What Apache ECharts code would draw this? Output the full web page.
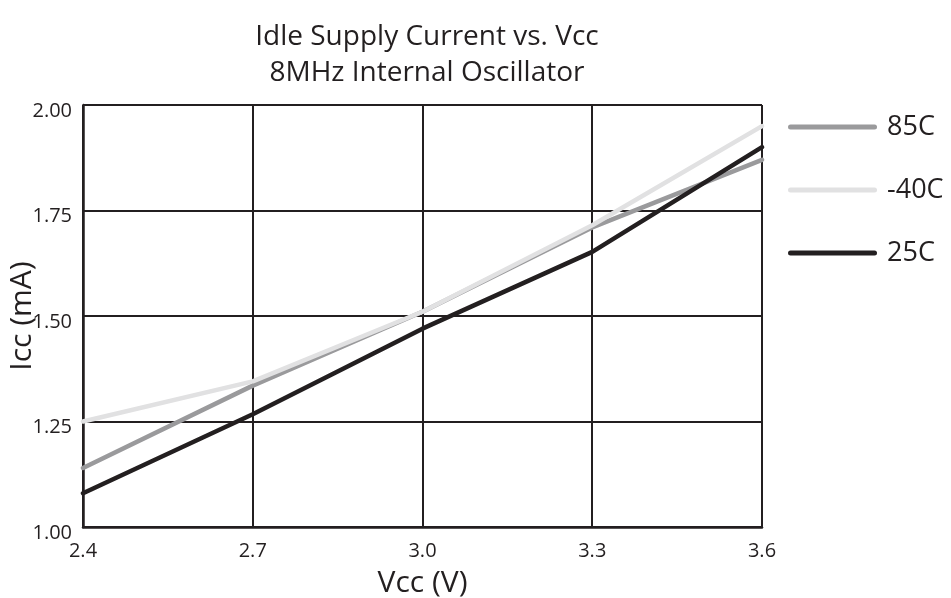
<!DOCTYPE html>
<html>
<head>
<meta charset="utf-8">
<script src="https://cdn.jsdelivr.net/npm/echarts@6/dist/echarts.min.js"></script>
<style>
  html, body { margin: 0; padding: 0; background: #fff; }
  #chart { width: 951px; height: 598px; }
</style>
</head>
<body>
<div id="chart"></div>
<script>
// Supply voltage points (V)
const vcc = [2.4, 2.7, 3.0, 3.3, 3.6];
// Idle supply current (mA) per temperature
const icc85 = [1.14, 1.335, 1.51, 1.71, 1.87];
const iccMinus40 = [1.25, 1.345, 1.51, 1.715, 1.95];
const icc25 = [1.08, 1.267, 1.47, 1.652, 1.90];
const seriesNames = ['85C', '-40C', '25C'];

const ink = '#231f20';
const font = '"Open Sans", "Liberation Sans", sans-serif';
// pill-shaped legend swatch
const pill = 'path://M0,2.5 A2.5,2.5 0 0 1 2.5,0 L86.5,0 A2.5,2.5 0 0 1 86.5,5 L2.5,5 A2.5,2.5 0 0 1 0,2.5 Z';

function pairs(ys) { return vcc.map((x, i) => [x, ys[i]]); }

function lineSeries(name, ys, color) {
  return {
    name: name,
    type: 'line',
    data: pairs(ys),
    symbol: 'none',
    lineStyle: { color: color, width: 4.5, cap: 'round' },
    itemStyle: { color: color },
    emphasis: { disabled: true }
  };
}

const chart = echarts.init(document.getElementById('chart'), null, { renderer: 'canvas' });
chart.setOption({
  animation: false,
  backgroundColor: '#ffffff',
  textStyle: { fontFamily: font, color: ink },
  title: {
    text: 'Idle Supply Current vs. Vcc\n8MHz Internal Oscillator',
    left: 422,
    top: 14,
    textAlign: 'center',
    textStyle: { fontFamily: font, fontSize: 28, fontWeight: 'normal', color: ink, lineHeight: 36 }
  },
  legend: {
    orient: 'vertical',
    left: 783,
    top: 107,
    itemWidth: 89,
    itemHeight: 5,
    itemGap: 33,
    icon: pill,
    data: seriesNames,
    textStyle: { fontFamily: font, fontSize: 27, color: ink, lineHeight: 30, padding: [0, 0, 0, 5] }
  },
  grid: { left: 83, right: 189, top: 105, bottom: 71, outerBoundsMode: 'none', containLabel: false },
  xAxis: {
    type: 'value',
    min: 2.4,
    max: 3.6,
    interval: 0.3,
    name: 'Vcc (V)',
    nameLocation: 'middle',
    nameGap: 41,
    nameMoveOverlap: false,
    nameTextStyle: { fontFamily: font, fontSize: 30, color: ink },
    axisLine: { show: true, lineStyle: { color: ink, width: 2.5 } },
    axisTick: { show: false },
    axisLabel: {
      fontFamily: font, fontSize: 20, color: ink, margin: 14, lineHeight: 20,
      formatter: v => v.toFixed(1)
    },
    splitLine: { show: true, lineStyle: { color: ink, width: 2 } }
  },
  yAxis: {
    type: 'value',
    min: 1,
    max: 2,
    interval: 0.25,
    name: 'Icc (mA)',
    nameLocation: 'middle',
    nameGap: 46,
    nameMoveOverlap: false,
    nameTextStyle: { fontFamily: font, fontSize: 30, color: ink },
    axisLine: { show: true, lineStyle: { color: ink, width: 2.5 } },
    axisTick: { show: false },
    axisLabel: {
      fontFamily: font, fontSize: 20, color: ink, margin: 11,
      verticalAlign: 'top', lineHeight: 12,
      formatter: v => v.toFixed(2)
    },
    splitLine: { show: true, lineStyle: { color: ink, width: 2 } }
  },
  series: [
    lineSeries(seriesNames[0], icc85, '#9a9a9c'),
    lineSeries(seriesNames[1], iccMinus40, '#e1e1e2'),
    lineSeries(seriesNames[2], icc25, ink)
  ]
});
</script>
</body>
</html>
